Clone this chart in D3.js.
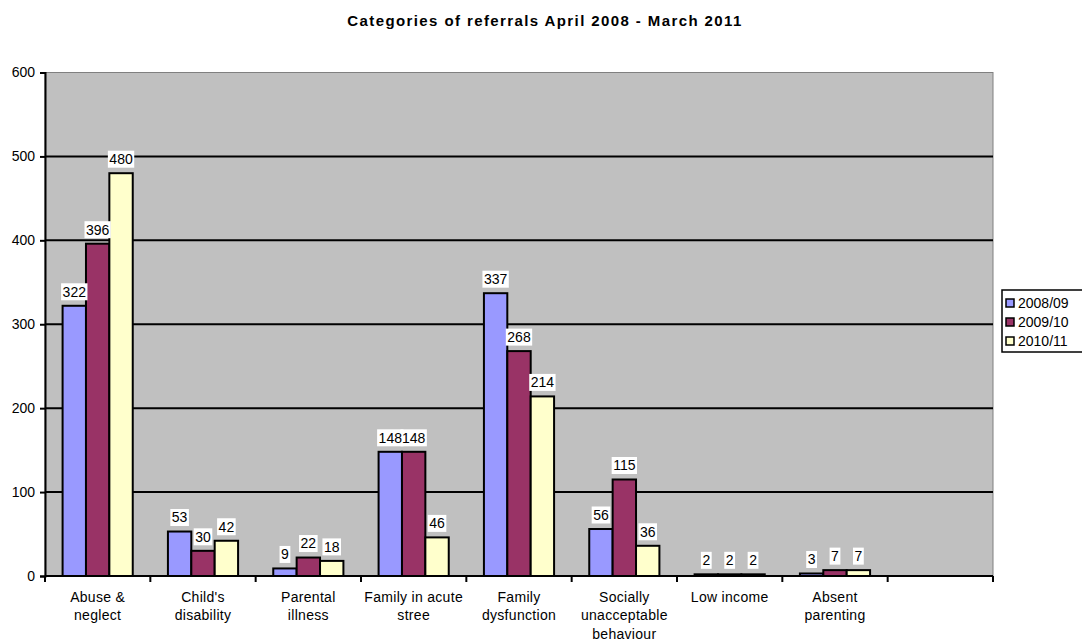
<!DOCTYPE html>
<html>
<head>
<meta charset="utf-8">
<script src="https://cdn.jsdelivr.net/npm/d3@7"></script>
<style>
  body { margin: 0; background: #fff; }
  text { font-family: "Liberation Sans", Arial, sans-serif; fill: #000; }
</style>
</head>
<body>
<div id="chart"></div>
<script>
// data
const categories = ["Abuse & neglect", "Child's disability", "Parental illness", "Family in acute stree",
  "Family dysfunction", "Socially unacceptable behaviour", "Low income", "Absent parenting", ""]
const categoryLines = [["Abuse &", "neglect"], ["Child's", "disability"], ["Parental", "illness"],
  ["Family in acute", "stree"], ["Family", "dysfunction"], ["Socially", "unacceptable", "behaviour"],
  ["Low income"], ["Absent", "parenting"], []]
const seriesNames = ["2008/09", "2009/10", "2010/11"]
const values2008 = [322, 53, 9, 148, 337, 56, 2, 3]
const values2009 = [396, 30, 22, 148, 268, 115, 2, 7]
const values2010 = [480, 42, 18, 46, 214, 36, 2, 7]
const yTicks = [0, 100, 200, 300, 400, 500, 600]
const colors = ["#9999ff", "#993366", "#ffffcc"]

const series = [values2008, values2009, values2010]

// dimensions
const dimensions = {
  width: 1082,
  height: 641,
  margin: { top: 72.5, right: 89, bottom: 65, left: 45 },
}
dimensions.boundedWidth = dimensions.width - dimensions.margin.left - dimensions.margin.right
dimensions.boundedHeight = dimensions.height - dimensions.margin.top - dimensions.margin.bottom

const svg = d3.select("#chart").append("svg")
  .attr("width", dimensions.width)
  .attr("height", dimensions.height)

svg.append("text")
  .attr("x", 545)
  .attr("y", 26)
  .attr("text-anchor", "middle")
  .style("font-size", "15px")
  .style("font-weight", "bold")
  .style("letter-spacing", "1.4px")
  .text("Categories of referrals April 2008 - March 2011")

const bounds = svg.append("g")
  .attr("transform", `translate(${dimensions.margin.left},${dimensions.margin.top})`)

// scales
const xScale = d3.scaleBand()
  .domain(d3.range(categories.length))
  .range([0, dimensions.boundedWidth])

const subScale = d3.scaleBand()
  .domain(d3.range(seriesNames.length))
  .range([xScale.bandwidth() * 0.167, xScale.bandwidth() * 0.833])

const yScale = d3.scaleLinear()
  .domain([0, 600])
  .range([dimensions.boundedHeight, 0])

// plot area
bounds.append("rect")
  .attr("width", dimensions.boundedWidth)
  .attr("height", dimensions.boundedHeight)
  .attr("fill", "#c0c0c0")
  .attr("stroke", "#808080")
  .attr("stroke-width", 1)

bounds.selectAll("line.grid")
  .data(yTicks.filter(d => d > 0 && d < 600))
  .join("line")
  .attr("class", "grid")
  .attr("x1", 0)
  .attr("x2", dimensions.boundedWidth)
  .attr("y1", d => yScale(d))
  .attr("y2", d => yScale(d))
  .attr("stroke", "#000")
  .attr("stroke-width", 2)

// flatten bars
const barData = []
d3.range(values2008.length).forEach(i => {
  series.forEach((s, k) => barData.push({ i, k, v: s[i] }))
})
const barX = d => xScale(d.i) + subScale(d.k)

bounds.append("g").selectAll("rect")
  .data(barData)
  .join("rect")
  .attr("x", barX)
  .attr("y", d => yScale(d.v))
  .attr("width", subScale.bandwidth())
  .attr("height", d => yScale(0) - yScale(d.v))
  .attr("fill", d => colors[d.k])
  .attr("stroke", "#000")
  .attr("stroke-width", 2)

// data labels: white boxes layer, then text layer
const labelBoxes = bounds.append("g")
const labelTexts = bounds.append("g")

labelTexts.selectAll("text")
  .data(barData)
  .join("text")
  .attr("x", d => barX(d) + subScale.bandwidth() / 2)
  .attr("y", d => yScale(d.v) - 14)
  .attr("dy", "0.35em")
  .attr("text-anchor", "middle")
  .style("font-size", "14px")
  .text(d => d.v)
  .each(function (d) { d.w = this.getComputedTextLength() })

labelBoxes.selectAll("rect")
  .data(barData)
  .join("rect")
  .attr("x", d => barX(d) + subScale.bandwidth() / 2 - d.w / 2 - 1.5)
  .attr("y", d => yScale(d.v) - 14 - 8.5)
  .attr("width", d => d.w + 3)
  .attr("height", 17)
  .attr("fill", "#fff")

// axes
const yAxis = bounds.append("g")
  .call(d3.axisLeft(yScale).tickValues(yTicks).tickSize(5).tickPadding(5))
yAxis.select(".domain").attr("stroke-width", 2)
yAxis.selectAll(".tick line").attr("stroke-width", 2)
yAxis.selectAll("text").style("font-size", "14px").attr("font-family", null)

const xAxis = bounds.append("g")
  .attr("transform", `translate(0,${dimensions.boundedHeight})`)
xAxis.append("line")
  .attr("x1", 0).attr("x2", dimensions.boundedWidth)
  .attr("stroke", "#000").attr("stroke-width", 2)
xAxis.selectAll("line.tick")
  .data(d3.range(categories.length + 1))
  .join("line")
  .attr("class", "tick")
  .attr("x1", i => i * xScale.step())
  .attr("x2", i => i * xScale.step())
  .attr("y1", 0).attr("y2", 6)
  .attr("stroke", "#000").attr("stroke-width", 2)

xAxis.selectAll("text.cat")
  .data(d3.range(categories.length))
  .join("text")
  .attr("class", "cat")
  .attr("text-anchor", "middle")
  .attr("x", i => xScale(i) + xScale.bandwidth() / 2)
  .style("font-size", "14px")
  .style("letter-spacing", "0.3px")
  .selectAll("tspan")
  .data(i => categoryLines[i])
  .join("tspan")
  .attr("x", function () { return this.parentNode.getAttribute("x") })
  .attr("y", (d, j) => 25.5 + j * 18.5)
  .text(d => d)

// legend
const legend = svg.append("g").attr("transform", "translate(1002,290)")
legend.append("rect")
  .attr("width", 100).attr("height", 62)
  .attr("fill", "#fff").attr("stroke", "#000").attr("stroke-width", 1.5)

const items = legend.selectAll("g.item")
  .data(seriesNames)
  .join("g")
  .attr("class", "item")
  .attr("transform", (d, i) => `translate(4,${13 + i * 19})`)
items.append("rect")
  .attr("x", 0).attr("y", -4).attr("width", 8).attr("height", 8)
  .attr("fill", (d, i) => colors[i]).attr("stroke", "#000").attr("stroke-width", 1.5)
items.append("text")
  .attr("x", 12).attr("dy", "0.35em")
  .style("font-size", "14px")
  .text(d => d)
</script>
</body>
</html>
